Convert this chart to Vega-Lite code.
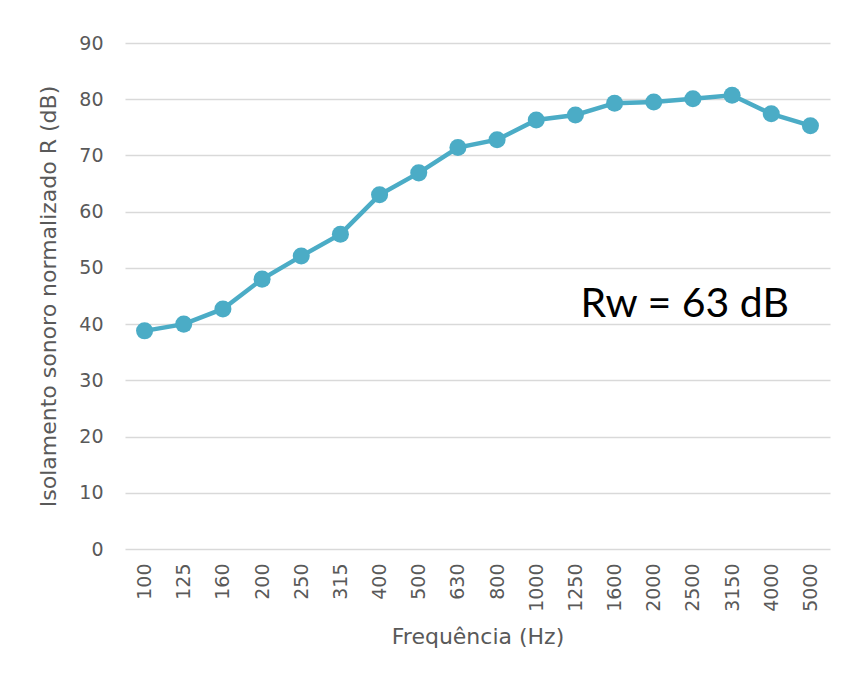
{
  "$schema": "https://vega.github.io/schema/vega-lite/v6.json",
  "width": 705,
  "height": 506,
  "autosize": {"type": "none"},
  "padding": {"left": 125, "top": 43, "right": 18, "bottom": 128},
  "background": "white",
  "config": {
    "view": {"stroke": null},
    "axis": {"labelFont": "DejaVu Sans", "titleFont": "DejaVu Sans", "labelColor": "#595959", "titleColor": "#595959", "labelFontSize": 19, "titleFontSize": 22, "titleFontWeight": "normal", "gridColor": "#d9d9d9", "gridWidth": 1.3}
  },
  "datasets": {
    "series": [
      {"freq": "100", "R": 38.8},
      {"freq": "125", "R": 40.0},
      {"freq": "160", "R": 42.7},
      {"freq": "200", "R": 48.0},
      {"freq": "250", "R": 52.1},
      {"freq": "315", "R": 56.0},
      {"freq": "400", "R": 63.0},
      {"freq": "500", "R": 66.9},
      {"freq": "630", "R": 71.4},
      {"freq": "800", "R": 72.8},
      {"freq": "1000", "R": 76.3},
      {"freq": "1250", "R": 77.2},
      {"freq": "1600", "R": 79.3},
      {"freq": "2000", "R": 79.5},
      {"freq": "2500", "R": 80.1},
      {"freq": "3150", "R": 80.7},
      {"freq": "4000", "R": 77.4},
      {"freq": "5000", "R": 75.3}
    ],
    "note": [{"freq": "1250", "R": 41.3, "label": "Rw = 63 dB"}]
  },
  "layer": [
    {
      "data": {"name": "series"},
      "mark": {"type": "line", "color": "#4bacc6", "strokeWidth": 4.5, "point": {"filled": true, "size": 290, "color": "#4bacc6", "opacity": 1}},
      "encoding": {
        "x": {"field": "freq", "type": "ordinal", "sort": null,
              "scale": {"type": "point", "padding": 0.5, "domain": ["100","125","160","200","250","315","400","500","630","800","1000","1250","1600","2000","2500","3150","4000","5000"]},
              "axis": {"title": "Frequência (Hz)", "labelAngle": -90, "labelPadding": 14, "ticks": false, "domain": false, "titlePadding": 15, "labelBaseline": "middle", "labelAlign": "right"}},
        "y": {"field": "R", "type": "quantitative", "scale": {"domain": [0, 90], "nice": false},
              "axis": {"title": "Isolamento sonoro normalizado R (dB)", "values": [0,10,20,30,40,50,60,70,80,90], "ticks": false, "domain": false, "labelPadding": 22, "titlePadding": 18}}
      }
    },
    {
      "data": {"name": "note"},
      "mark": {"type": "text", "align": "left", "baseline": "alphabetic", "font": "Lato", "fontSize": 41, "color": "#000000", "dx": 5},
      "encoding": {
        "x": {"field": "freq", "type": "ordinal", "sort": null},
        "y": {"field": "R", "type": "quantitative"},
        "text": {"field": "label"}
      }
    }
  ]
}
